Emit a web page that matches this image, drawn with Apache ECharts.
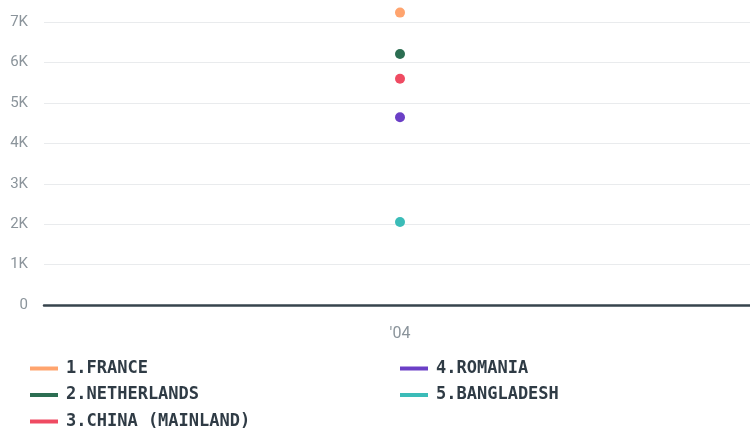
<!DOCTYPE html>
<html><head><meta charset="utf-8">
<script src="https://cdn.jsdelivr.net/npm/echarts@6/dist/echarts.min.js"></script>
<style>html,body{margin:0;padding:0;background:#fff;overflow:hidden}#c{width:756px;height:431px}</style>
</head><body><div id="c"></div>
<script>
const categories = ["'04"];
const seriesNames = ["1.FRANCE", "2.NETHERLANDS", "3.CHINA (MAINLAND)", "4.ROMANIA", "5.BANGLADESH"];
const seriesValues = [[7235], [6210], [5600], [4645], [2055]];
const seriesColors = ["#ffa46e", "#2c6e52", "#ef4b62", "#6b3fc6", "#3bbcb8"];
const yTicks = [0, 1000, 2000, 3000, 4000, 5000, 6000, 7000];

const chart = echarts.init(document.getElementById('c'), null, {renderer: 'canvas'});
const legendText = {fontFamily: 'DejaVu Sans Mono', fontWeight: 'bold', fontSize: 17, lineHeight: 17,
  color: '#2f3b45', padding: [0, 0, 0, 3]};
const legendBase = {orient: 'vertical', padding: 0, itemGap: 9.5, itemWidth: 28, itemHeight: 4, icon: 'rect',
  textStyle: legendText};
chart.setOption({
  animation: false,
  grid: {left: 44, top: 12.6, right: 0, bottom: 126},
  xAxis: {
    type: 'category', data: categories, boundaryGap: true,
    axisLine: {show: true, lineStyle: {color: '#37444d', width: 2.5}},
    axisTick: {show: false},
    axisLabel: {color: '#8b949b', fontFamily: 'Roboto', fontSize: 16, margin: 21}
  },
  yAxis: {
    type: 'value', min: 0, max: 7235, interval: 1000,
    axisLine: {show: false}, axisTick: {show: false},
    axisLabel: {color: '#8b949b', fontFamily: 'Roboto', fontSize: 15, margin: 16, showMaxLabel: false,
      formatter: v => v === 0 ? '0' : (v / 1000) + 'K'},
    splitLine: {lineStyle: {color: '#e9ebed', width: 1}, showMaxLine: false}
  },
  legend: [
    Object.assign({left: 30, top: 360, data: seriesNames.slice(0, 3)}, legendBase),
    Object.assign({left: 400, top: 360, data: seriesNames.slice(3)}, legendBase)
  ],
  series: seriesNames.map((n, i) => ({
    name: n, type: 'scatter', data: seriesValues[i], symbol: 'circle', symbolSize: 10,
    itemStyle: {color: seriesColors[i], opacity: 1}
  }))
});
</script></body></html>
